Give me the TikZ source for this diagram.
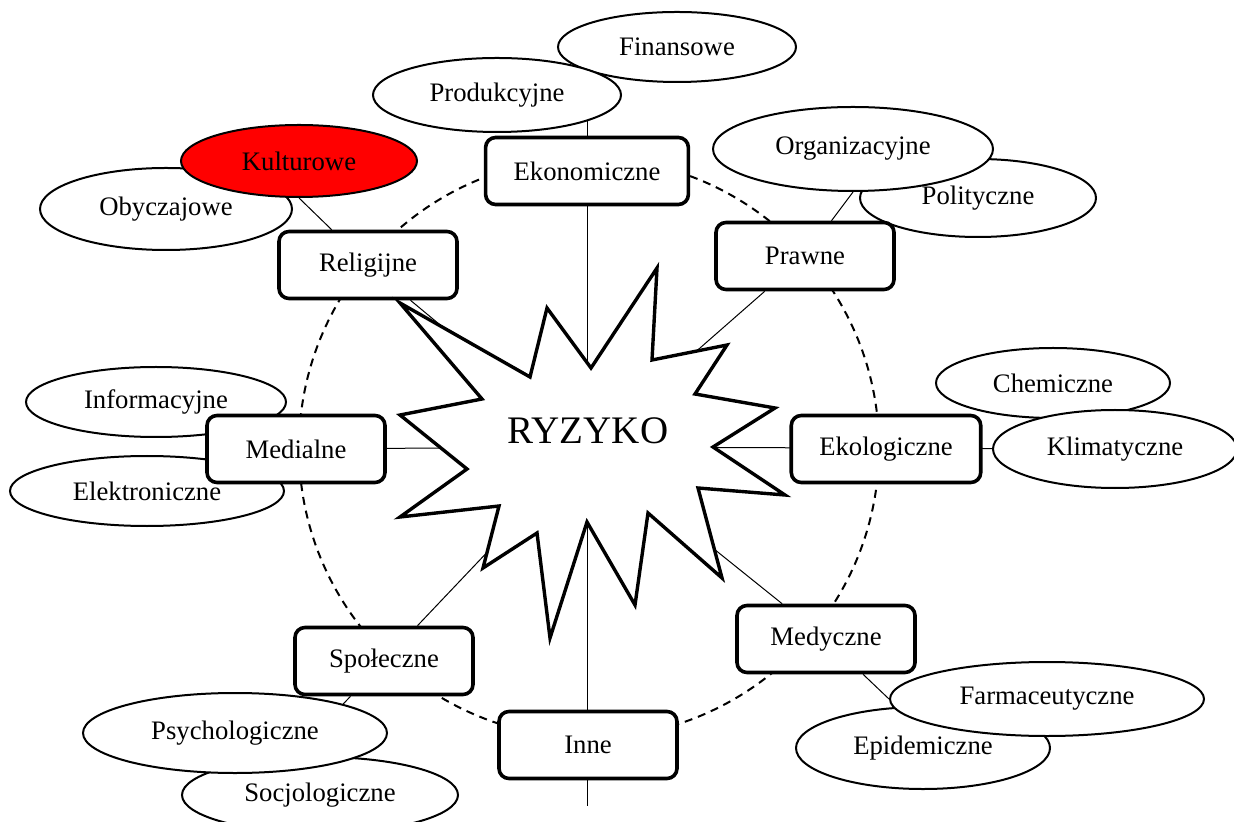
\documentclass[tikz,border=0pt]{standalone}
\usepackage{fontspec}
\setmainfont{Liberation Serif}
\usetikzlibrary{shapes,backgrounds}

\begin{document}
\begin{tikzpicture}[x=0.5pt,y=-0.5pt,
		rodzaj/.style={rectangle,rounded corners=5pt,draw,line width=1.8pt,fill=white,
			minimum width=89pt,minimum height=33.5pt,inner xsep=14pt,font=\fontsize{13.35}{16}\selectfont},
		oval/.style={ellipse,draw,line width=1pt,fill=white,inner sep=0pt,font=\fontsize{13.35}{16}\selectfont},
		laczka/.style={line width=0.5pt},
		kolo/.style={dash pattern=on 4pt off 3pt,line width=1pt}]
		
		\useasboundingbox (0,0) rectangle (1234,822);
		\clip (0,0) rectangle (1234,822);
		
		% podkategorie
		\node[oval,minimum width=119pt,minimum height=35pt] (fin) at (677,47)   {Finansowe};
		\node[oval,minimum width=124pt,minimum height=37pt] (pro) at (497,95)   {Produkcyjne};
		\node[oval,minimum width=126pt,minimum height=41pt] (oby) at (166,209)  {Obyczajowe};
		\node[oval,minimum width=118pt,minimum height=36pt,fill=red] (kul) at (299,161) {Kulturowe};
		\node[oval,minimum width=118pt,minimum height=39pt] (pol) at (978,198)  {Polityczne};
		\node[oval,minimum width=140pt,minimum height=42pt] (org) at (853,149)  {Organizacyjne};
		\node[oval,minimum width=117pt,minimum height=35pt] (che) at (1053,383) {Chemiczne};
		\node[oval,minimum width=122pt,minimum height=39pt] (kli) at (1115,449) {Klimatyczne};
		\node[oval,minimum width=130pt,minimum height=35pt] (inf) at (156,402)  {Informacyjne};
		\node[oval,minimum width=137pt,minimum height=35pt] (ele) at (147,491)  {Elektroniczne};
		\node[oval,minimum width=138pt,minimum height=38pt] (soc) at (320,795)  {Socjologiczne};
		\node[oval,minimum width=152pt,minimum height=40pt] (psy) at (235,733)  {Psychologiczne};
		\node[oval,minimum width=127pt,minimum height=41pt] (epi) at (923,748)  {Epidemiczne};
		\node[oval,minimum width=157pt,minimum height=37pt] (far) at (1047,699) {Farmaceutyczne};
		
		% kategorie ryzyka
		\node[rodzaj] (eko) at (587,171) {Ekonomiczne};
		\node[rodzaj] (rel) at (368,265) {Religijne};
		\node[rodzaj] (pra) at (805,256) {Prawne};
		\node[rodzaj] (med) at (296,449) {Medialne};
		\node[rodzaj] (ekl) at (886,449) {Ekologiczne};
		\node[rodzaj] (spo) at (384,661) {Społeczne};
		\node[rodzaj] (mdy) at (826,639) {Medyczne};
		\node[rodzaj] (inn) at (588,745) {Inne};
		
		% gwiazda
		\draw[line width=1.7pt,fill=white] (400,303) -- (530,377) -- (547,308) -- (591,368)
		-- (657,268) -- (652,360) -- (727,345) -- (695,394) -- (775,408) -- (713,447)
		-- (785,495) -- (698,488) -- (722,578) -- (648,513) -- (635,605) -- (587,522)
		-- (550,638) -- (537,533) -- (483,568) -- (499,506) -- (400,517) -- (467,469)
		-- (400,415) -- (482,399) -- cycle;
		\node (ryzyko) at (588,431) {\fontsize{19.5}{23}\selectfont RYZYKO};
		\coordinate (srodek) at (587,447);
		\coordinate (koniec) at (587,806);
		
		\begin{scope}[on background layer]
			\draw[kolo] (589,448) circle [radius=290];
			\path[laczka] (eko |- pro) edge (srodek)
			(srodek) edge (koniec)
			edge (rel)
			edge (pra)
			edge (med)
			edge (kli)
			edge (mdy)
			edge (spo)
			(rel) edge (kul.south)
			(pra) edge (org.south)
			(mdy) edge (far.west)
			(spo) edge (psy.north east);
		\end{scope}
	\end{tikzpicture}
\end{document}
